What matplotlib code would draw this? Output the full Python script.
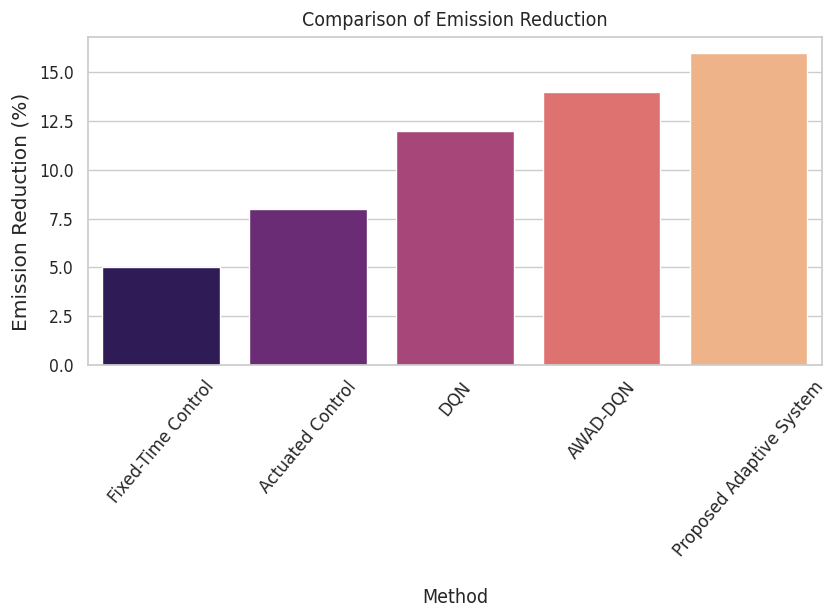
import matplotlib
matplotlib.use("Agg")
import matplotlib.pyplot as plt
import matplotlib.ticker as mticker
import seaborn as sns
import pandas as pd

methods = ["Fixed-Time Control", "Actuated Control", "DQN", "AWAD-DQN", "Proposed Adaptive System"]
emission_reduction = [5, 8, 12, 14, 16]

sns.set_theme(style="whitegrid")
plt.rcParams['font.family'] = ['DejaVu Sans']

df = pd.DataFrame({"Method": methods, "Emission Reduction (%)": emission_reduction})

fig, ax = plt.subplots(figsize=(8.27, 6.1), dpi=100)
sns.barplot(data=df, x="Method", y="Emission Reduction (%)", hue="Method",
            palette="magma", legend=False, ax=ax)
ax.set_title("Comparison of Emission Reduction", fontsize=14, fontstretch='condensed', pad=8)
ax.set_xlabel("Method", fontsize=14, fontstretch='condensed')
ax.xaxis.set_label_coords(0.5, -0.68)
ax.set_ylabel("Emission Reduction (%)", fontsize=14.5)
ax.yaxis.set_label_coords(-0.078, 0.466)
ax.yaxis.set_major_locator(mticker.MultipleLocator(2.5))
ax.yaxis.set_major_formatter(mticker.FormatStrFormatter('%.1f'))
ax.set_ylim(0, 16.8)
for lab in ax.get_yticklabels():
    lab.set_fontstretch('condensed')
    lab.set_fontsize(12.5)
for lab in ax.get_xticklabels():
    lab.set_rotation(50)
    lab.set_fontsize(12.0)
ax.tick_params(axis='y', pad=4)
for spine in ax.spines.values():
    spine.set_color('#cccccc')
fig.subplots_adjust(left=0.106, right=0.994, top=0.939, bottom=0.402)
fig.savefig("out.png", dpi=100)
